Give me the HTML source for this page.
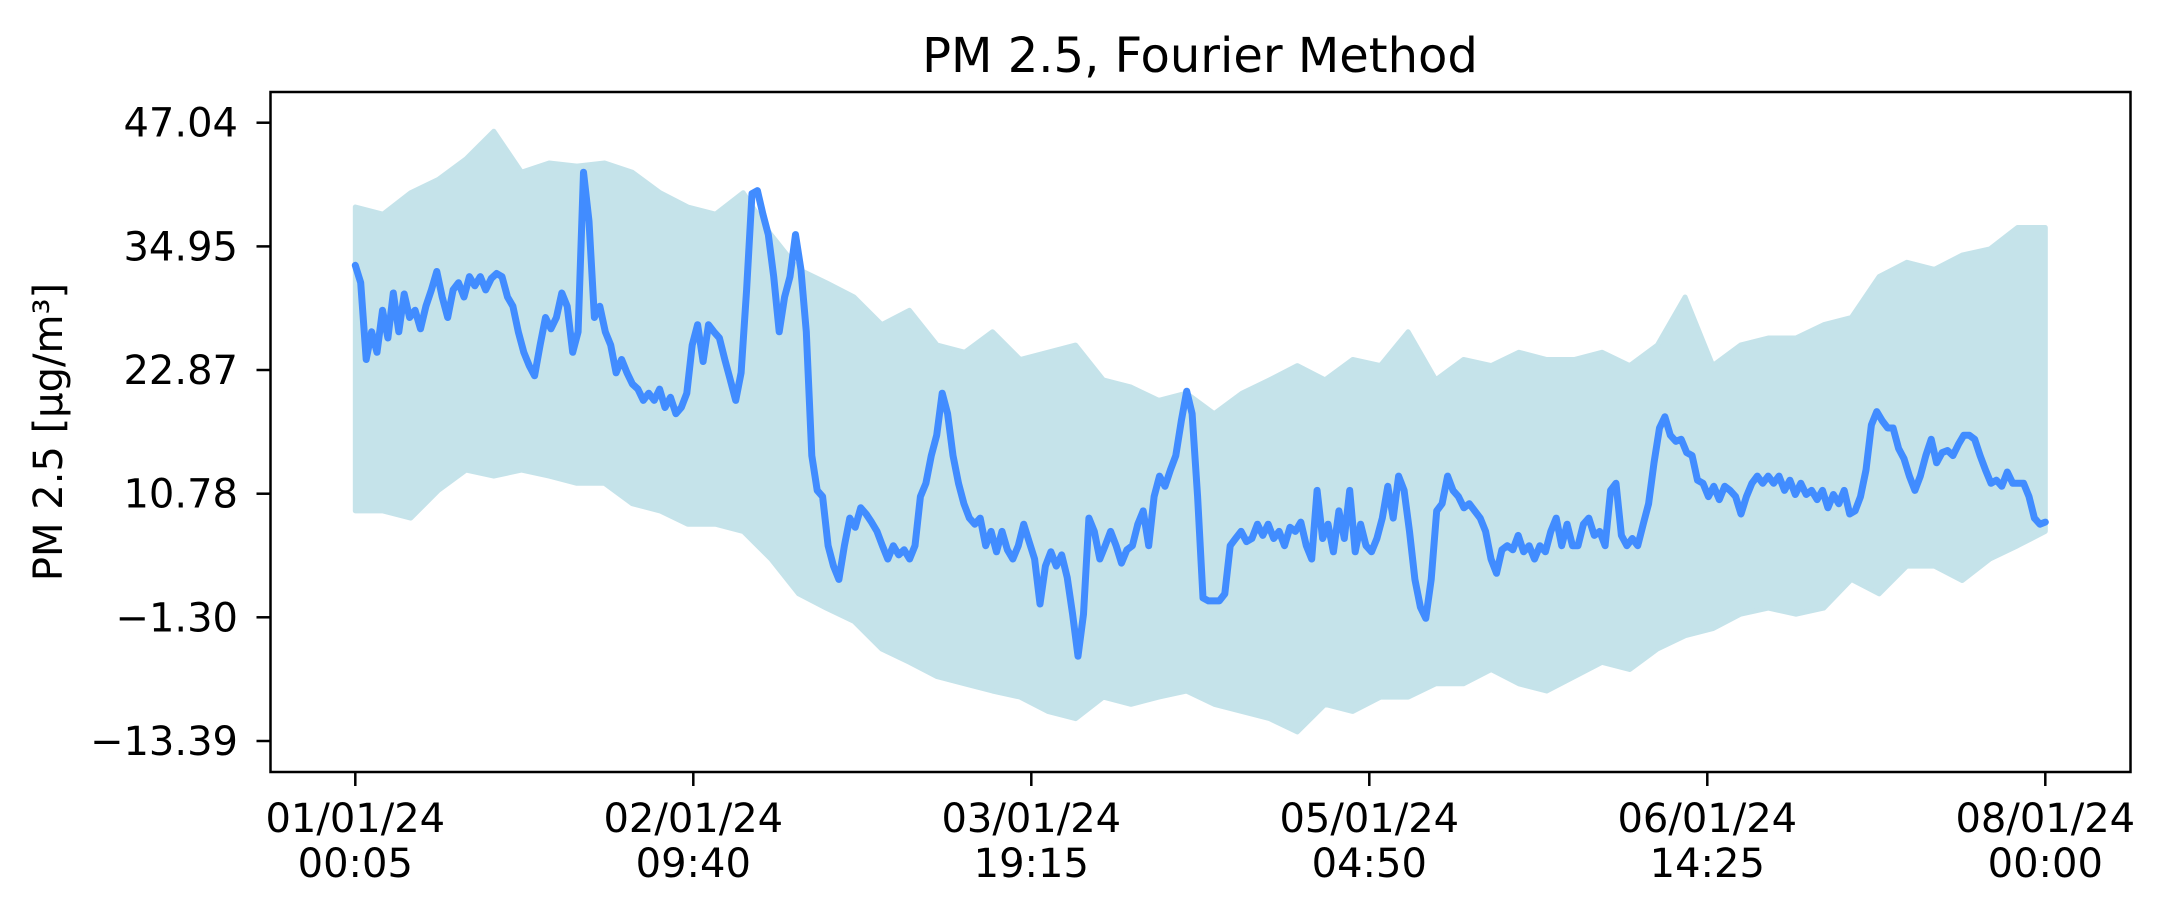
<!DOCTYPE html>
<html><head><meta charset="utf-8"><style>
html,body{margin:0;padding:0;background:#fff;}
svg{display:block;font-family:"DejaVu Sans","Liberation Sans",sans-serif;}
</style></head><body>
<svg id="chart" width="2175" height="917" viewBox="0 0 2175 917" xmlns="http://www.w3.org/2000/svg">
<text x="1200" y="72" font-size="48" text-anchor="middle" fill="#000">PM 2.5, Fourier Method</text>
<g id="plot"></g>
<g id="axes"></g>
<text transform="translate(62,432) rotate(-90)" font-size="40" text-anchor="middle" fill="#000">PM 2.5 [µg/m³]</text>
</svg>
<script>
const yTicks = [47.04, 34.95, 22.87, 10.78, -1.30, -13.39];
const yTickLabels = ["47.04", "34.95", "22.87", "10.78", "\u22121.30", "\u221213.39"];
const xTickHours = [0, 33.583, 67.167, 100.75, 134.333, 167.917];
const xTickLine1 = ["01/01/24", "02/01/24", "03/01/24", "05/01/24", "06/01/24", "08/01/24"];
const xTickLine2 = ["00:05", "09:40", "19:15", "04:50", "14:25", "00:00"];
const totalHours = 167.917;
const meanSeries = [33.1,31.4,23.9,26.6,24.6,28.7,26.0,30.4,26.6,30.3,28.0,28.7,26.9,29.1,30.7,32.5,30.0,28.0,30.7,31.4,30.0,32.0,31.1,32.0,30.7,31.8,32.3,32.0,30.0,29.1,26.6,24.6,23.3,22.3,25.3,28.0,26.9,28.0,30.4,29.1,24.6,26.6,42.2,37.4,28.0,29.1,26.6,25.3,22.6,23.9,22.6,21.5,21.0,19.9,20.6,19.9,21.0,19.2,20.2,18.6,19.2,20.6,25.3,27.3,23.7,27.3,26.6,26.0,23.9,21.9,19.9,22.6,30.7,40.1,40.4,38.1,36.1,32.0,26.6,30.0,32.0,36.1,32.7,26.6,14.5,11.1,10.5,5.7,3.7,2.4,5.7,8.4,7.5,9.4,8.8,8.0,7.1,5.7,4.4,5.7,4.8,5.3,4.4,5.7,10.5,11.8,14.5,16.5,20.6,18.6,14.5,11.8,9.8,8.4,7.8,8.4,5.7,7.1,5.1,7.1,5.3,4.4,5.7,7.8,6.1,4.4,0.0,3.7,5.1,3.7,4.8,2.6,-1.0,-5.1,-1.0,8.4,7.1,4.4,5.7,7.1,5.7,4.0,5.3,5.7,7.8,9.1,5.7,10.5,12.5,11.5,13.1,14.5,17.9,20.8,18.6,10.5,0.6,0.3,0.3,0.3,1.0,5.7,6.4,7.1,6.1,6.4,7.8,6.7,7.8,6.4,7.1,5.7,7.5,7.1,8.0,5.7,4.4,11.1,6.4,7.8,5.1,9.1,6.4,11.1,5.1,7.8,5.7,5.1,6.4,8.4,11.5,8.4,12.5,11.1,7.1,2.4,-0.3,-1.4,2.4,9.1,9.8,12.5,11.1,10.5,9.4,9.8,9.1,8.4,7.1,4.4,3.0,5.3,5.7,5.3,6.7,5.1,5.7,4.4,5.7,5.1,7.1,8.4,5.7,7.8,5.7,5.7,7.8,8.4,6.7,7.1,5.7,11.1,11.8,6.7,5.7,6.4,5.7,7.8,9.8,13.8,17.2,18.3,16.5,15.9,16.1,14.8,14.5,12.1,11.8,10.5,11.5,10.2,11.5,11.1,10.5,8.8,10.5,11.8,12.5,11.8,12.5,11.8,12.5,11.1,12.1,10.7,11.8,10.7,11.1,10.2,11.1,9.4,10.7,9.8,11.1,8.8,9.1,10.5,13.1,17.5,18.8,17.9,17.2,17.2,15.2,14.2,12.5,11.1,12.5,14.5,16.1,13.8,14.8,15.0,14.5,15.6,16.5,16.5,16.1,14.5,13.1,11.8,12.1,11.5,12.9,11.8,11.8,11.8,10.5,8.4,7.8,8.0];
const bandUpper = [38.8,38.1,40.2,41.5,43.5,46.2,42.2,43.1,42.8,43.1,42.2,40.2,38.8,38.1,40.2,36.1,32.7,31.4,30.0,27.3,28.7,25.3,24.6,26.6,23.9,24.6,25.3,21.9,21.2,19.9,20.6,18.6,20.6,21.9,23.3,21.9,23.9,23.3,26.6,21.9,23.9,23.3,24.6,23.9,23.9,24.6,23.3,25.3,30.0,23.3,25.3,26.0,26.0,27.3,28.0,32.0,33.4,32.7,34.1,34.7,36.8,36.8];
const bandLower = [9.1,9.1,8.4,11.1,13.1,12.5,13.1,12.5,11.8,11.8,9.8,9.1,7.8,7.8,7.1,4.4,1.0,-0.4,-1.7,-4.4,-5.7,-7.1,-7.8,-8.5,-9.1,-10.5,-11.2,-9.1,-9.8,-9.1,-8.5,-9.8,-10.5,-11.2,-12.5,-9.8,-10.5,-9.1,-9.1,-7.8,-7.8,-6.4,-7.8,-8.5,-7.1,-5.7,-6.4,-4.4,-3.1,-2.4,-1.0,-0.4,-1.0,-0.4,2.4,1.0,3.7,3.7,2.3,4.4,5.7,7.1];

const L=270.5, R=2130.5, T=92, B=772;
const X0=355.3, X1=2045.3;
const Y0=122.7, Y1=741;
const NS="http://www.w3.org/2000/svg";
function xScale(h){return X0+(h/totalHours)*(X1-X0);}
function yScale(v){return Y0+(yTicks[0]-v)/(yTicks[0]-yTicks[5])*(Y1-Y0);}
function mk(tag,attrs,parent){const e=document.createElementNS(NS,tag);for(const k in attrs)e.setAttribute(k,attrs[k]);parent.appendChild(e);return e;}
const plot=document.getElementById('plot');
const axes=document.getElementById('axes');

let pts=[];
bandUpper.forEach((v,i)=>{pts.push(xScale(i/(bandUpper.length-1)*totalHours).toFixed(1)+','+yScale(v).toFixed(1));});
for(let i=bandLower.length-1;i>=0;i--){pts.push(xScale(i/(bandLower.length-1)*totalHours).toFixed(1)+','+yScale(bandLower[i]).toFixed(1));}
const band=mk('polygon',{points:pts.join(' '),fill:'#c5e3ea',stroke:'#c5e3ea','stroke-width':5,'stroke-linejoin':'round'},plot);



let d='';
meanSeries.forEach((v,i)=>{d+=(i?'L':'M')+xScale(i/(meanSeries.length-1)*totalHours).toFixed(1)+','+yScale(v).toFixed(1);});
const line=mk('path',{d:d,fill:'none',stroke:'#418cff','stroke-width':7,'stroke-linejoin':'round','stroke-linecap':'round'},plot);



const frame=mk('rect',{x:L,y:T,width:R-L,height:B-T,fill:'none',stroke:'#000','stroke-width':2.5},axes);



yTicks.forEach((v,i)=>{
  const y=yScale(v);
  const t=mk('line',{x1:L-14,x2:L,y1:y,y2:y,stroke:'#000','stroke-width':2.5},axes);
  
  
  const lb=mk('text',{x:238,y:y+14,'font-size':40,'text-anchor':'end',fill:'#000'},axes);
  lb.textContent=yTickLabels[i];
  
  
});
xTickHours.forEach((h,i)=>{
  const x=xScale(h);
  const t=mk('line',{x1:x,x2:x,y1:B,y2:B+14,stroke:'#000','stroke-width':2.5},axes);
  
  
  const a=mk('text',{x:x,y:832,'font-size':40,'text-anchor':'middle',fill:'#000'},axes);
  a.textContent=xTickLine1[i];
  
  
  const b=mk('text',{x:x,y:877,'font-size':40,'text-anchor':'middle',fill:'#000'},axes);
  b.textContent=xTickLine2[i];
  
  
});
</script>
</body></html>
